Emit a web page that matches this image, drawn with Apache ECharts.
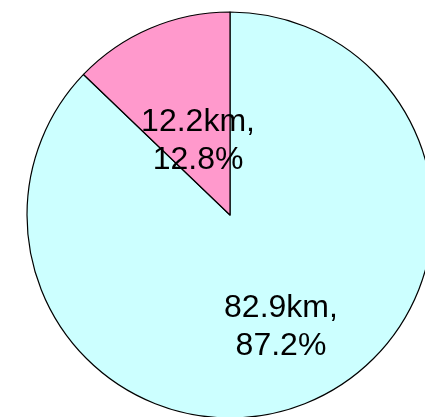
<!DOCTYPE html>
<html>
<head>
<meta charset="utf-8">
<script src="https://cdn.jsdelivr.net/npm/echarts@6/dist/echarts.min.js"></script>
<style>
  html, body { margin: 0; padding: 0; background: #fff; }
  #chart { width: 425px; height: 417px; }
</style>
</head>
<body>
<div id="chart"></div>
<script>
// 区間ごとの距離 (km)
const names = ['その他', '対象区間'];
const distances = [82.9, 12.2];
const percents = [87.2, 12.8];
const colors = ['#CCFFFF', '#FF99CC'];
// ラベルの微調整
const labelOffsets = [[10, 16], [9, 22]];

const chart = echarts.init(document.getElementById('chart'));

const pieData = names.map((n, i) => ({
    name: n,
    value: distances[i],
    pct: percents[i],
    itemStyle: { color: colors[i] },
    label: { offset: labelOffsets[i] }
}));

chart.setOption({
    animation: false,
    series: [
        {
            type: 'pie',
            center: [230, 215],
            radius: [0, 203],
            startAngle: 90,
            clockwise: true,
            data: pieData,
            itemStyle: {
                borderColor: '#000',
                borderWidth: 1.2
            },
            label: {
                show: true,
                position: 'inside',
                formatter: p => p.value.toFixed(1) + 'km,\n' + p.data.pct.toFixed(1) + '%',
                fontFamily: 'Liberation Sans',
                fontSize: 32,
                lineHeight: 38,
                color: '#000',
                align: 'center'
            },
            labelLine: { show: false },
            emphasis: { disabled: true }
        }
    ]
});
</script>
</body>
</html>
